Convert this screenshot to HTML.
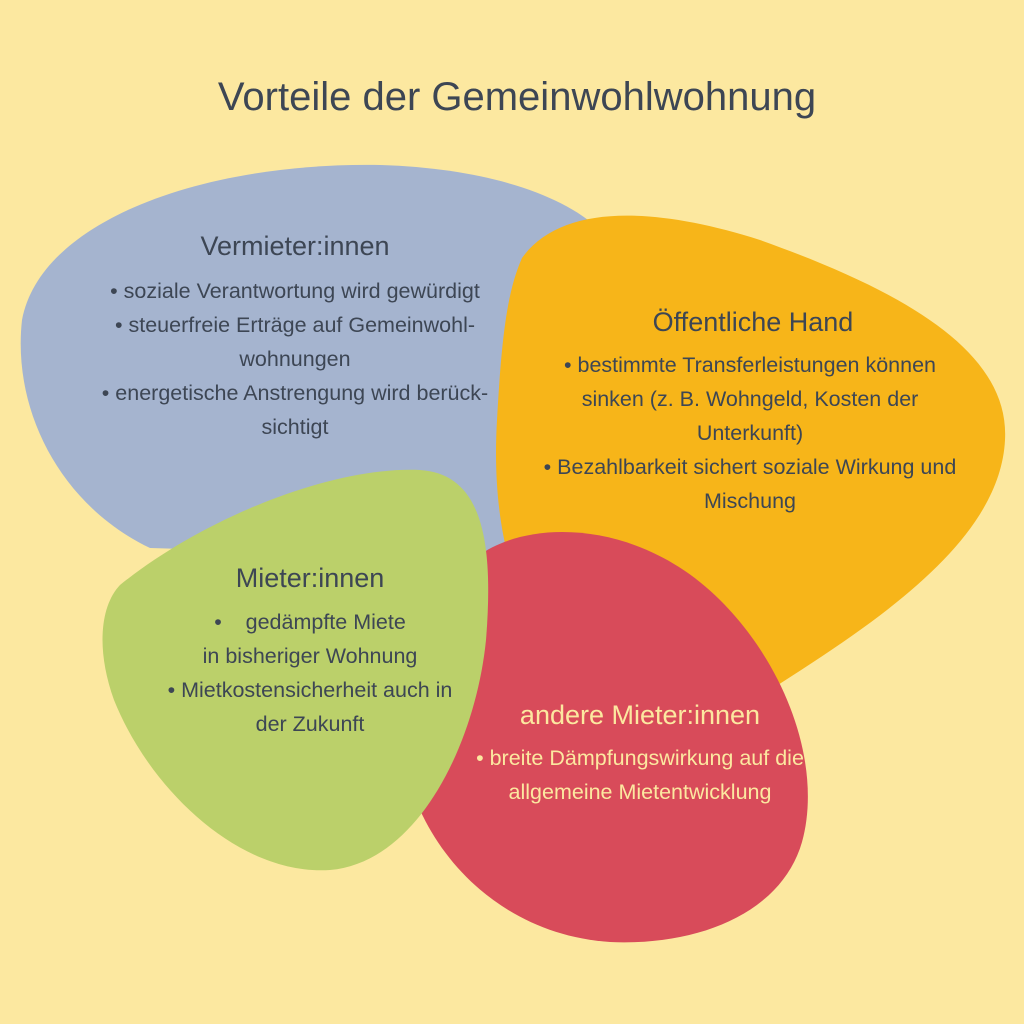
<!DOCTYPE html>
<html><head><meta charset="utf-8"><style>
html,body{margin:0;padding:0;background:#fce8a0;}
body{width:1024px;height:1024px;position:relative;overflow:hidden;font-family:"Liberation Sans",sans-serif;color:#3d4654;}
svg{position:absolute;left:0;top:0;}
.t{position:absolute;text-align:center;white-space:nowrap;}
.h{font-size:27px;}
.b{font-size:21.5px;line-height:34px;}
</style></head><body>
<svg width="1024" height="1024" viewBox="0 0 1024 1024">
<path fill="#a5b4cf" d="M150 548 C60 505 12 410 22 320 C40 222 200 162 380 165 C480 168 560 192 600 230 L560 560 Z"/>
<path fill="#f7b519" d="M522 258 C560 205 650 205 760 240 C900 290 1010 350 1005 440 C1000 540 880 620 770 690 L600 700 C520 640 490 540 497 420 C502 330 508 290 522 258 Z"/>
<path fill="#d84b5a" d="M478 556 C530 518 640 520 720 600 C790 670 822 770 802 842 C782 912 700 946 610 942 C520 936 452 880 420 810 L440 600 Z"/>
<path fill="#bbd06a" d="M120 585 C200 520 330 466 420 470 C482 474 494 540 486 640 C476 740 420 862 330 870 C240 876 150 790 114 700 C96 650 100 606 120 585 Z"/>
</svg>
<div class="t" style="left:0;width:1034px;top:75px;font-size:40px;">Vorteile der Gemeinwohlwohnung</div>

<div class="t h" style="left:95px;width:400px;top:231px;">Vermieter:innen</div>
<div class="t b" style="left:60px;width:470px;top:274px;">• soziale Verantwortung wird gewürdigt<br>• steuerfreie Erträge auf Gemeinwohl-<br>wohnungen<br>• energetische Anstrengung wird berück-<br>sichtigt</div>

<div class="t h" style="left:553px;width:400px;top:307px;">Öffentliche Hand</div>
<div class="t b" style="left:515px;width:470px;top:348px;">• bestimmte Transferleistungen können<br>sinken (z. B. Wohngeld, Kosten der<br>Unterkunft)<br>• Bezahlbarkeit sichert soziale Wirkung und<br>Mischung</div>

<div class="t h" style="left:110px;width:400px;top:563px;">Mieter:innen</div>
<div class="t b" style="left:80px;width:460px;top:605px;">•&nbsp;&nbsp;&nbsp;&nbsp;gedämpfte Miete<br>in bisheriger Wohnung<br>• Mietkostensicherheit auch in<br>der Zukunft</div>

<div class="t h" style="left:440px;width:400px;top:700px;color:#fce8a0;">andere Mieter:innen</div>
<div class="t b" style="left:405px;width:470px;top:741px;color:#fce8a0;">• breite Dämpfungswirkung auf die<br>allgemeine Mietentwicklung</div>
</body></html>
